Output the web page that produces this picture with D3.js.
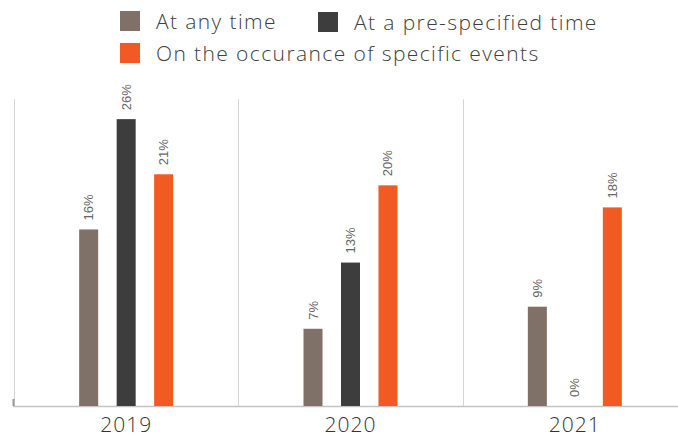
<!DOCTYPE html>
<html>
<head>
<meta charset="utf-8">
<script src="https://cdn.jsdelivr.net/npm/d3@7"></script>
<style>
  body { margin: 0; background: #fff; }
  svg { display: block; }
</style>
</head>
<body>
<svg id="chart" width="678" height="438"></svg>
<script>
const years = ["2019", "2020", "2021"]
const seriesNames = ["At any time", "At a pre-specified time", "On the occurance of specific events"]
const seriesColors = ["#7f7068", "#3d3d3d", "#f15a22"]
const anyTime = [16, 7, 9]
const preSpecified = [26, 13, 0]
const specificEvents = [21, 20, 18]

const seriesValues = [anyTime, preSpecified, specificEvents]
const rows = years.flatMap((year, yi) =>
  seriesNames.map((name, si) => ({ year, name, si, value: seriesValues[si][yi] })))

const svg = d3.select("#chart")

const x = d3.scaleBand().domain(years).range([14, 687]).padding(0)
const xInner = d3.scaleBand().domain(seriesNames).range([-47, 47]).paddingInner(0.493).paddingOuter(0)
const y = d3.scaleLinear().domain([0, 30]).range([406, 75])

// vertical separators between years
svg.append("g")
  .selectAll("line")
  .data(years)
  .join("line")
  .attr("x1", (d) => Math.round(x(d)) + 0.5)
  .attr("x2", (d) => Math.round(x(d)) + 0.5)
  .attr("y1", y(27.8))
  .attr("y2", y(0))
  .attr("stroke", "#d4d4d4")
  .attr("stroke-width", 1)

// baseline
svg.append("line")
  .attr("x1", 13)
  .attr("x2", 678)
  .attr("y1", y(0) + 0.5)
  .attr("y2", y(0) + 0.5)
  .attr("stroke", "#c4c4c4")
  .attr("stroke-width", 1.5)

svg.append("line")
  .attr("x1", 13.5)
  .attr("x2", 13.5)
  .attr("y1", y(0) - 7)
  .attr("y2", y(0))
  .attr("stroke", "#9a9a9a")
  .attr("stroke-width", 2)

const groups = svg.append("g")
  .selectAll("g")
  .data(rows)
  .join("g")
  .attr("transform", (d) => `translate(${x(d.year) + x.bandwidth() / 2},0)`)

groups.append("rect")
  .attr("x", (d) => xInner(d.name))
  .attr("width", xInner.bandwidth())
  .attr("y", (d) => y(d.value))
  .attr("height", (d) => y(0) - y(d.value))
  .attr("fill", (d) => seriesColors[d.si])

groups.append("text")
  .attr("transform", (d) =>
    `translate(${xInner(d.name) + xInner.bandwidth() / 2 + 4.5},${y(d.value) - 9}) rotate(-90)`)
  .attr("font-family", "Liberation Sans, Arial, sans-serif")
  .attr("font-size", 13)
  .attr("fill", "#666")
  .text((d) => `${d.value}%`)

// year labels
svg.append("g")
  .selectAll("text")
  .data(years)
  .join("text")
  .attr("x", (d) => x(d) + x.bandwidth() / 2)
  .attr("y", 432)
  .attr("text-anchor", "middle")
  .attr("font-family", "Open Sans, sans-serif")
  .attr("font-weight", 300)
  .attr("font-size", 21)
  .attr("letter-spacing", 1)
  .attr("fill", "#333")
  .text((d) => d)

// legend
const legendPos = [[120, 11], [318, 12], [120, 43]]
const legend = svg.append("g")
  .selectAll("g")
  .data(seriesNames)
  .join("g")
  .attr("transform", (d, i) => `translate(${legendPos[i][0]},${legendPos[i][1]})`)

legend.append("rect")
  .attr("width", 20)
  .attr("height", 20)
  .attr("fill", (d, i) => seriesColors[i])

legend.append("text")
  .attr("x", 36)
  .attr("y", 18)
  .attr("font-family", "Open Sans, sans-serif")
  .attr("font-weight", 300)
  .attr("font-size", 21)
  .attr("letter-spacing", 1.4)
  .attr("fill", "#404040")
  .text((d) => d)
</script>
</body>
</html>
